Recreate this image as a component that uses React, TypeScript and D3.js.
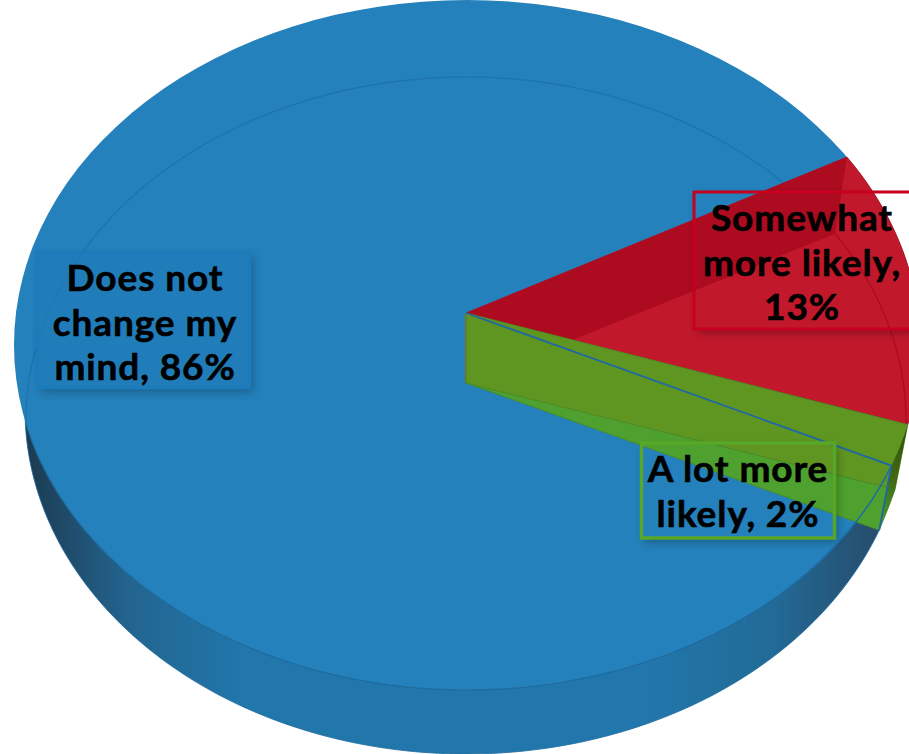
import React from "react";
import * as d3 from "d3";

// Poll responses, ordered clockwise from the start of the pie.
const categories = ["Somewhat more likely", "A lot more likely", "Does not change my mind"];
const shares = [13, 2, 86];
const labelLines = [
  ["Somewhat", "more likely,", "13%"],
  ["A lot more", "likely, 2%"],
  ["Does not", "change my", "mind, 86%"],
];
const firstSliceStartDeg = 57;

const WIDTH = 909;
const HEIGHT = 754;

type Ellipse = { cx: number; cy: number; rx: number; ry: number };
const topRim: Ellipse = { cx: 467, cy: 345, rx: 453, ry: 345 };
const lowerRim: Ellipse = { cx: 466, cy: 410, rx: 441, ry: 344 };
const backRim: Ellipse = { cx: 466, cy: 421, rx: 440, ry: 344 };
const apexTop: [number, number] = [466, 313];
const apexLow: [number, number] = [466, 383];

const deg = d3.scaleLinear().domain([0, 360]).range([0, 2 * Math.PI]);
const pie = d3
  .pie<number>()
  .sort(null)
  .startAngle(deg(firstSliceStartDeg))
  .endAngle(deg(firstSliceStartDeg + 360));
const slices = pie(shares);

const at = (e: Ellipse, a: number): [number, number] => [
  e.cx + e.rx * Math.sin(a),
  e.cy - e.ry * Math.cos(a),
];
const arcPoints = (e: Ellipse, a0: number, a1: number) =>
  d3.range(0, 121).map((i) => at(e, a0 + ((a1 - a0) * i) / 120));
const line = d3.line();
const closed = (pts: [number, number][]) => line(pts) + "Z";

const a0 = slices[0].startAngle;
const a1 = slices[0].endAngle;
const a2 = slices[1].endAngle;
const leftLow = deg(270);
const leftTop = deg(257);

const redFace = closed([apexTop, ...arcPoints(topRim, a0, a1)]);
const redWall = closed([apexTop, at(topRim, a0), at(backRim, a0), apexLow]);
const oliveWall = closed([apexTop, at(topRim, a1), at(lowerRim, a1), apexLow]);
const greenFloor = closed([apexLow, at(lowerRim, a1), at(lowerRim, a2)]);
const outerGreen = closed([
  ...arcPoints(topRim, a1, a2),
  ...arcPoints(lowerRim, a2, a1),
]);
const sideBand = closed([
  ...arcPoints(lowerRim, a2, leftLow),
  ...arcPoints(topRim, leftTop, a2),
]);

type Box = { x: number; y: number; w: number; h: number; stroke: string; sw: number; fill: string };
const boxes: Box[] = [
  { x: 694, y: 192, w: 218, h: 137, stroke: "#c8001f", sw: 3, fill: "none" },
  { x: 641.5, y: 443, w: 193, h: 95, stroke: "#57a829", sw: 3.5, fill: "none" },
  { x: 37.5, y: 252.5, w: 212, h: 135, stroke: "#1c7bbb", sw: 3.5, fill: "#1f7cb8" },
];
const textCenters = [
  { x: 802, y: 231 },
  { x: 738, y: 482 },
  { x: 145, y: 291 },
];
const lineStep = 44.5;

export default function App() {
  return (
    <svg
      width={WIDTH}
      height={HEIGHT}
      viewBox={`0 0 ${WIDTH} ${HEIGHT}`}
      style={{ position: "absolute", left: 0, top: 0, background: "#fff" }}
    >
      <defs>
        <linearGradient id="side" gradientUnits="userSpaceOnUse" x1="25" x2="885" y1="0" y2="0">
          <stop offset="0" stopColor="#1c3a50" />
          <stop offset="0.05" stopColor="#1f4c6b" />
          <stop offset="0.12" stopColor="#23648f" />
          <stop offset="0.25" stopColor="#2176aa" />
          <stop offset="0.72" stopColor="#2177ab" />
          <stop offset="0.87" stopColor="#226a97" />
          <stop offset="1" stopColor="#274a68" />
        </linearGradient>
        <linearGradient id="outerGreenFill" gradientUnits="userSpaceOnUse" x1="908" y1="425" x2="880" y2="530">
          <stop offset="0" stopColor="#2f4a08" stopOpacity="0.95" />
          <stop offset="0.5" stopColor="#2f4a08" stopOpacity="0.6" />
          <stop offset="1" stopColor="#4c9a2a" stopOpacity="0.6" />
        </linearGradient>
        <clipPath id="redClip">
          <path d={redFace} />
        </clipPath>
        <filter id="soft" x="-20%" y="-20%" width="140%" height="140%">
          <feGaussianBlur stdDeviation="5" />
        </filter>
        {boxes.map((b, i) => (
          <clipPath id={`outside${i}`} key={i}>
            <path
              clipRule="evenodd"
              d={`M0 0H${WIDTH}V${HEIGHT}H0Z M${b.x} ${b.y}h${b.w}v${b.h}h${-b.w}Z`}
            />
          </clipPath>
        ))}
      </defs>

      {/* Pie body */}
      <path d={sideBand} fill="url(#side)" stroke="#1f6c9f" strokeWidth={0.8} />
      <ellipse cx={topRim.cx} cy={topRim.cy} rx={topRim.rx} ry={topRim.ry} fill="#2481bb" />
      <path
        d={line(arcPoints(topRim, leftTop, a2))!}
        fill="none"
        stroke="#1c6a9e"
        strokeWidth={1.2}
      />
      <path
        d={line(arcPoints(backRim, leftLow, deg(firstSliceStartDeg + 360)))!}
        fill="none"
        stroke="#1f72ab"
        strokeWidth={1.2}
      />

      {/* Somewhat more likely */}
      <path d={redFace} fill="#c2182b" stroke="#a80f22" strokeWidth={0.8} />
      <g clipPath="url(#redClip)">
        <path d={redWall} fill="#ad0b20" />
        <path
          d={line(arcPoints(backRim, a0, a1))!}
          fill="none"
          stroke="#ab0c20"
          strokeWidth={1.3}
        />
      </g>

      {/* A lot more likely */}
      <path d={greenFloor} fill="#4ea12f" stroke="#46882a" strokeWidth={0.8} />
      <path d={oliveWall} fill="#5e9621" stroke="#4f8a22" strokeWidth={0.8} />
      <path d={outerGreen} fill="url(#outerGreenFill)" />
      <line
        x1={apexTop[0]}
        y1={apexTop[1]}
        x2={apexLow[0]}
        y2={apexLow[1]}
        stroke="#6b7d22"
        strokeWidth={2}
      />
      <path
        d={line([apexTop, at(topRim, a2), at(lowerRim, a2)])!}
        fill="none"
        stroke="#1f68a5"
        strokeWidth={1.8}
      />
      <path
        d={line(arcPoints(topRim, a2, a2 + deg(25)))!}
        fill="none"
        stroke="#1f6ca5"
        strokeWidth={1.5}
      />

      {/* Data labels */}
      {boxes.map((b, i) => (
        <g key={i}>
          <g clipPath={`url(#outside${i})`}>
            <rect
              x={b.x + 3}
              y={b.y + 4}
              width={b.w}
              height={b.h}
              fill="#000"
              opacity={0.28}
              filter="url(#soft)"
            />
          </g>
          <rect
            x={b.x}
            y={b.y}
            width={b.w}
            height={b.h}
            fill={b.fill}
            fillOpacity={b.fill === "none" ? 0 : 0.6}
            stroke={b.stroke}
            strokeWidth={b.sw}
          />
          <text
            textAnchor="middle"
            fontFamily="Lato, 'Open Sans', sans-serif"
            fontWeight={700}
            fontSize={37}
            letterSpacing={0.9}
            stroke="#000"
            strokeWidth={0.6}
            fill="#000"
            aria-label={categories[i]}
          >
            {labelLines[i].map((t, j) => (
              <tspan key={j} x={textCenters[i].x} y={textCenters[i].y + j * lineStep}>
                {t}
              </tspan>
            ))}
          </text>
        </g>
      ))}
    </svg>
  );
}
